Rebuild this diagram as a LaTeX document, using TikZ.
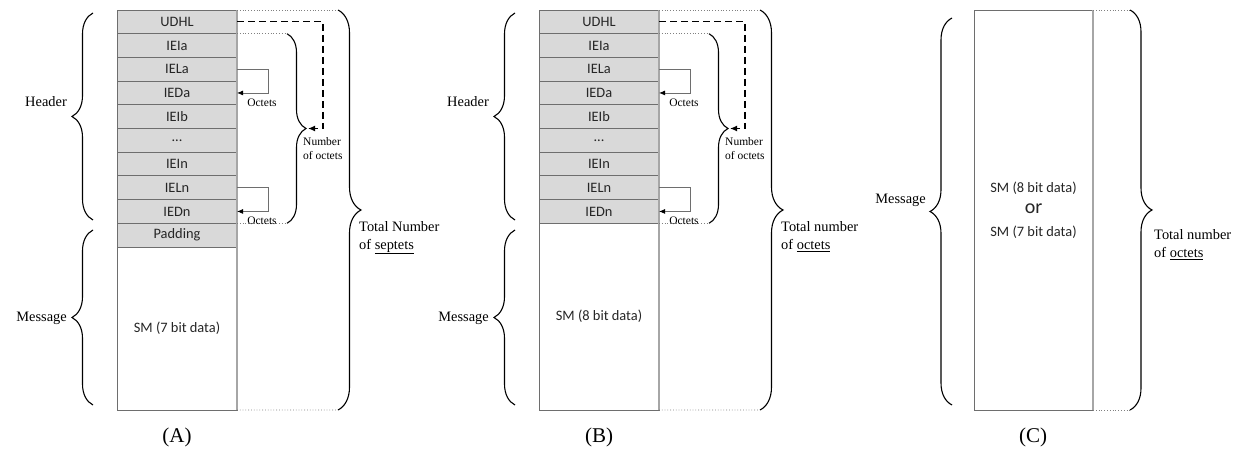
\documentclass[tikz,border=0pt]{standalone}
\usepackage{fontspec}
\setmainfont{Liberation Serif}
\newfontfamily\cellfont{Carlito}
\usetikzlibrary{positioning,decorations.pathreplacing,arrows.meta,calc}
\definecolor{cellfill}{HTML}{D9D9D9}
\definecolor{cellline}{HTML}{6E6E6E}
\definecolor{edgeline}{HTML}{A6A6A6}
\definecolor{dotline}{HTML}{808080}
\begin{document}
\begin{tikzpicture}[x=1pt,y=1pt,
  cell/.style={draw=cellline, fill=cellfill, line width=0.8pt,
    minimum width=120pt, minimum height=23.7pt, inner sep=0pt, outer sep=0pt,
    font=\cellfont\fontsize{14.4}{16}\selectfont, text=black!85},
  smbox/.style={draw=cellline, fill=white, line width=0.8pt,
    minimum width=120pt, inner sep=0pt, outer sep=0pt, align=center,
    font=\cellfont\fontsize{14.4}{16}\selectfont, text=black!85},
  rightedge/.style={draw=edgeline, line width=1.2pt},
  dotlink/.style={draw=dotline, line width=0.8pt, dash pattern=on 0.8pt off 2pt},
  bracedraw/.style={decorate, decoration={brace, amplitude=#1}, line width=1.1pt},
  octloop/.style={draw=cellline, line width=0.8pt, -{Latex[length=6pt,width=5pt,color=black]}},
  udharrow/.style={dash pattern=on 7pt off 4pt, line width=1.3pt, -{Latex[length=7pt,width=6pt]}},
  sidelabel/.style={font=\fontsize{14.4}{18}\selectfont, anchor=east, inner sep=0pt},
  totlabel/.style={font=\fontsize{14.4}{18}\selectfont, anchor=north west, align=left, inner sep=0pt},
  smalllabel/.style={font=\fontsize{11.5}{13.5}\selectfont, inner sep=0pt},
  caption/.style={font=\fontsize{21}{24}\selectfont, inner sep=0pt}
]
\useasboundingbox (0,0) rectangle (1244,455);

% ---------------- (A): 7-bit message with padding ----------------
\node[cell, anchor=north] (a1) at (177,445) {UDHL};
\node[cell, below=0pt of a1] (a2) {IEIa};
\node[cell, below=0pt of a2] (a3) {IELa};
\node[cell, below=0pt of a3] (a4) {IEDa};
\node[cell, below=0pt of a4] (a5) {IEIb};
\node[cell, below=0pt of a5] (a6) {...};
\node[cell, below=0pt of a6] (a7) {IEIn};
\node[cell, below=0pt of a7] (a8) {IELn};
\node[cell, below=0pt of a8] (a9) {IEDn};
\node[cell, below=0pt of a9] (a10) {Padding};
\node[smbox, minimum height=163pt, below=0pt of a10] (a11) {SM (7 bit data)};
\draw[rightedge] (a1.north east) -- (a11.south east);

\coordinate (aOT) at (338,445);
\coordinate (aOB) at (338,45);
\draw[dotlink] (a1.north east) -- (aOT);
\draw[dotlink] (a11.south east) -- (aOB);
\draw[bracedraw=23] (aOT) -- (aOB);

\coordinate (aIT) at ($(a2.north east)+(50,0)$);
\coordinate (aIB) at ($(a9.south east)+(50,0)$);
\draw[dotlink] (a2.north east) -- (aIT);
\draw[dotlink] (a9.south east) -- (aIB);
\draw[bracedraw=19] (aIT) -- (aIB);
\coordinate (aTip) at ($(aIT)!0.5!(aIB)+(21,0)$);
\draw[udharrow] (a1.east) -| ($(aTip)+(15,0)$) -- (aTip);
\node[smalllabel, anchor=north west, align=left] (aNum) at ($(aTip)+(-5,-9)$) {Number\\of octets};

\draw[octloop] (a3.east) -- ++(31,0) |- (a4.east);
\node[smalllabel] (aOct1) at ($(a4.east)+(25,-9.5)$) {Octets};
\draw[octloop] (a8.east) -- ++(31,0) |- (a9.east);
\node[smalllabel] (aOct2) at ($(a9.east)+(25,-9.5)$) {Octets};

\coordinate (aHB) at (93,235);
\coordinate (aHT) at (93,442);
\draw[bracedraw=21] (aHB) -- (aHT);
\node[sidelabel] (aHead) at (67,353) {Header};
\coordinate (aMB) at (93,50);
\coordinate (aMT) at (93,225);
\draw[bracedraw=21] (aMB) -- (aMT);
\node[sidelabel] (aMsg) at (67,137) {Message};

\node[totlabel] (aTot) at (359,234) {Total Number\\of \underline{septets}};
\node[caption] (aCap) at (177,18) {(A)};

% ---------------- (B): 8-bit message ----------------
\node[cell, anchor=north] (b1) at (599,445) {UDHL};
\node[cell, below=0pt of b1] (b2) {IEIa};
\node[cell, below=0pt of b2] (b3) {IELa};
\node[cell, below=0pt of b3] (b4) {IEDa};
\node[cell, below=0pt of b4] (b5) {IEIb};
\node[cell, below=0pt of b5] (b6) {...};
\node[cell, below=0pt of b6] (b7) {IEIn};
\node[cell, below=0pt of b7] (b8) {IELn};
\node[cell, below=0pt of b8] (b9) {IEDn};
\node[smbox, minimum height=186.7pt, below=0pt of b9] (b10) {SM (8 bit data)};
\draw[rightedge] (b1.north east) -- (b10.south east);

\coordinate (bOT) at (760,445);
\coordinate (bOB) at (760,45);
\draw[dotlink] (b1.north east) -- (bOT);
\draw[dotlink] (b10.south east) -- (bOB);
\draw[bracedraw=23] (bOT) -- (bOB);

\coordinate (bIT) at ($(b2.north east)+(50,0)$);
\coordinate (bIB) at ($(b9.south east)+(50,0)$);
\draw[dotlink] (b2.north east) -- (bIT);
\draw[dotlink] (b9.south east) -- (bIB);
\draw[bracedraw=19] (bIT) -- (bIB);
\coordinate (bTip) at ($(bIT)!0.5!(bIB)+(21,0)$);
\draw[udharrow] (b1.east) -| ($(bTip)+(15,0)$) -- (bTip);
\node[smalllabel, anchor=north west, align=left] (bNum) at ($(bTip)+(-5,-9)$) {Number\\of octets};

\draw[octloop] (b3.east) -- ++(31,0) |- (b4.east);
\node[smalllabel] (bOct1) at ($(b4.east)+(25,-9.5)$) {Octets};
\draw[octloop] (b8.east) -- ++(31,0) |- (b9.east);
\node[smalllabel] (bOct2) at ($(b9.east)+(25,-9.5)$) {Octets};

\coordinate (bHB) at (515,235);
\coordinate (bHT) at (515,442);
\draw[bracedraw=21] (bHB) -- (bHT);
\node[sidelabel] (bHead) at (489,353) {Header};
\coordinate (bMB) at (515,50);
\coordinate (bMT) at (515,225);
\draw[bracedraw=21] (bMB) -- (bMT);
\node[sidelabel] (bMsg) at (489,137) {Message};

\node[totlabel] (bTot) at (781,234) {Total number\\of \underline{octets}};
\node[caption] (bCap) at (599,18) {(B)};

% ---------------- (C): message without header ----------------
\node[smbox, minimum width=119pt, minimum height=400pt] (c1) at (1033.5,245)
  {SM (8 bit data)\\[5pt]{\fontsize{20}{20}\selectfont or}\\[7pt]SM (7 bit data)};
\draw[rightedge] (c1.north east) -- (c1.south east);

\coordinate (cOT) at (1130,445);
\coordinate (cOB) at (1130,45);
\draw[dotlink] (c1.north east) -- (cOT);
\draw[dotlink] (c1.south east) -- (cOB);
\draw[bracedraw=22] (cOT) -- (cOB);

\coordinate (cMB) at (952,50);
\coordinate (cMT) at (952,437);
\draw[bracedraw=22] (cMB) -- (cMT);
\node[sidelabel] (cMsg) at (926,255) {Message};

\node[totlabel] (cTot) at (1154,226) {Total number\\of \underline{octets}};
\node[caption] (cCap) at (1033,18) {(C)};
\end{tikzpicture}
\end{document}
